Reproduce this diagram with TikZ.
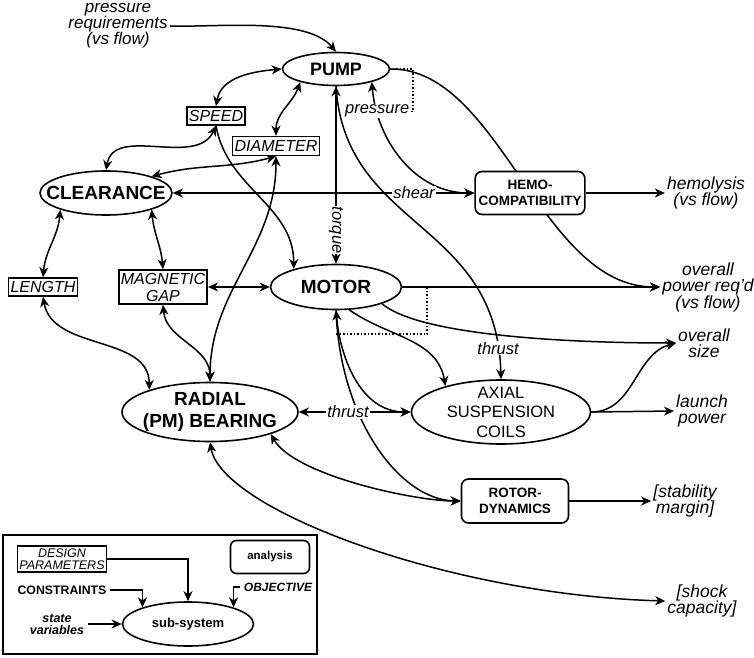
\documentclass[tikz,border=0pt]{standalone}
\usepackage{fontspec}
\setmainfont{Liberation Sans}
\usepackage{tikz}
\usetikzlibrary{arrows.meta,shapes.geometric,backgrounds}
\tikzset{>={Stealth[length=10pt,width=9pt,inset=3pt]}}
\newcommand\fsys{\fontsize{19}{22}\selectfont\bfseries}
\newcommand\fparam{\fontsize{16}{17}\selectfont\itshape}
\newcommand\fana{\fontsize{13.5}{16}\selectfont\bfseries}
\newcommand\fres{\fontsize{17.5}{16.5}\selectfont\itshape}
\newcommand\ftag{\fontsize{16.5}{16}\selectfont\itshape}
\tikzstyle{system}=[draw,ellipse,line width=1.6pt,fill=white,inner xsep=-16pt,inner ysep=-12pt,align=center,font=\fsys]
\tikzstyle{param}=[draw,line width=1.6pt,fill=white,inner xsep=2pt,inner ysep=1pt,align=center,font=\fparam]
\tikzstyle{analysis}=[draw,rounded corners=7pt,line width=1.6pt,fill=white,align=center,font=\fana]
\tikzstyle{result}=[align=center,inner sep=2pt,font=\fres]
\tikzstyle{tag}=[fill=white,inner sep=1pt,font=\ftag]
\tikzstyle{link}=[line width=1.5pt]

\begin{document}
\begin{tikzpicture}[x=1pt,y=1pt]
  \useasboundingbox (0,0) rectangle (754,657);

  % sub-systems
  \node[system,minimum width=107,minimum height=33,font=\fontsize{18}{20}\selectfont\bfseries] (pump) at (336,588) {PUMP};
  \node[system,minimum width=132,minimum height=44] (clear) at (106,464) {CLEARANCE};
  \node[system,minimum width=131,minimum height=45] (motor) at (336,370) {MOTOR};
  \node[system,minimum width=176,minimum height=59] (radial) at (210,245) {RADIAL\\(PM) BEARING};
  \node[system,minimum width=179,minimum height=64,font=\fontsize{16.5}{19.5}\selectfont] (axial) at (501,245) {AXIAL\\SUSPENSION\\COILS};

  % design parameters
  \node[param,minimum height=18] (speed) at (216,541) {SPEED};
  \node[param,minimum height=19] (diam) at (276,511) {DIAMETER};
  \node[param,minimum height=18] (length) at (43,370) {LENGTH};
  \node[param,minimum height=34] (maggap) at (163,370) {MAGNETIC\\GAP};

  % analyses
  \node[analysis,minimum width=106,minimum height=43] (hemo) at (530,464) {HEMO-\\COMPATIBILITY};
  \node[analysis,minimum width=107,minimum height=44] (rotor) at (515,156) {ROTOR-\\DYNAMICS};

  % requirements and objectives
  \node[result,font=\fontsize{17}{16}\selectfont\itshape] (preq) at (118,631) {pressure\\requirements\\(vs flow)};
  \node[result] (hemol) at (706,464) {hemolysis\\(vs flow)};
  \node[result] (power) at (708,370) {overall\\power req'd\\(vs flow)};
  \node[result] (size) at (704,314) {overall\\size};
  \node[result] (launch) at (702,246) {launch\\power};
  \node[result] (stab) at (685,156) {[stability\\margin]};
  \node[result] (shock) at (702,56) {[shock\\capacity]};

  % legend
  \node[param,minimum width=89,minimum height=26,font=\fontsize{12.5}{11.5}\selectfont\itshape] (dp) at (62,98) {DESIGN\\PARAMETERS};
  \node[analysis,rounded corners=6pt,minimum width=79,minimum height=33,font=\fontsize{11.5}{12}\selectfont\bfseries] (anl) at (270,100) {analysis};
  \node[font=\fontsize{12.3}{13}\selectfont\bfseries] (constr) at (62,67) {CONSTRAINTS};
  \node[font=\fontsize{12}{13}\selectfont\bfseries\itshape] (obj) at (278,70) {OBJECTIVE};
  \node[align=center,font=\fontsize{12.5}{12}\selectfont\bfseries\itshape] (svar) at (57,33) {state\\variables};
  \node[system,minimum width=131,minimum height=44,font=\fontsize{13}{14}\selectfont\bfseries] (subsys) at (188,33) {sub-system};

  \coordinate (pdot) at (413,547);
  \coordinate (mdot) at (427,323);

  \begin{scope}[on background layer={link}]
    \draw[line width=1.6pt] (3,3) rectangle (317,122);

    % pump
    \draw[->] (preq.east) to[out=-2,in=130,looseness=0.7] (pump.north);
    \draw[<->] (speed.north) to[out=80,in=185] (pump.west);
    \draw[<->] (diam.north) to[out=90,in=-110] (pump.200);
    \draw[<->] (pump.south) -- node[tag,pos=0.81,rotate=-90]{torque} (motor.north);
    \draw[->] (pump.south) .. controls (345,427) and (497,437) .. node[tag,pos=0.93]{thrust} (axial.north);
    \draw[<->] (pump.-20) to[out=-85,in=180] node[tag,pos=0.17] (pres) {pressure} (hemo.west);
    \draw[->] (pump.east) .. controls (500,589) and (540,370) .. (power.west);
    \draw[dotted,line width=1.5pt] (pres.east) -- (pres.east -| pdot) -- (pump.east -| pdot) -- (pump.east);

    % clearance
    \draw[<->] (speed.south) to[out=-115,in=80] (clear.north);
    \draw[<->] (diam.south) to[out=-165,in=15] (clear.20);
    \draw[<->] (clear.east) -- node[tag,pos=0.8]{shear} (hemo.west);
    \draw[<->] (length.north) to[out=85,in=-95] (clear.-160);
    \draw[<->] (maggap.north) to[out=95,in=-85] (clear.-20);
    \draw[->] (hemo.east) -- (hemol.west);

    % motor
    \draw[->] (speed.south) to[out=-80,in=90] (motor.157);
    \draw[<->] (maggap.east) -- (motor.west);
    \draw[->] (motor.east) -- (power.west);
    \draw[dotted,line width=1.5pt] (motor.east -| mdot) -- (mdot) -- (mdot -| motor.south);
    \draw[<->] (motor.south) to[out=-85,in=180] (axial.west);
    \draw[->] (motor.south) .. controls (340,237) and (400,157) .. (rotor.west);
    \draw[->] (motor.-60) to[out=-35,in=100] (axial.155);
    \draw[->] (motor.-20) to[out=-40,in=180,looseness=0.5] (size.west);

    % bearing
    \draw[<->] (diam.south) to[out=-90,in=90] (radial.north);
    \draw[<->] (maggap.south) to[out=-85,in=90] (radial.north);
    \draw[<->] (length.south) to[out=-80,in=90] (radial.160);
    \draw[<->] (radial.east) -- node[tag,pos=0.44]{thrust} (axial.west);
    \draw[<->] (radial.-20) to[out=-60,in=180,looseness=0.6] (rotor.west);
    \draw[<->] (radial.south) .. controls (222,147) and (450,62) .. (shock.west);

    % axial coils
    \draw[->] (axial.east) to[out=0,in=195] (size.west);
    \draw[->] (axial.east) -- (launch.west);
    \draw[->] (rotor.east) -- (stab.west);

    % legend
    \draw[->] (dp.east) -| (subsys.north);
    \draw[->] (constr.east) -| (subsys.160);
    \draw[->] (obj.west) -| (subsys.20);
    \draw[->] (svar.east) -- (subsys.west);
  \end{scope}
\end{tikzpicture}
\end{document}
